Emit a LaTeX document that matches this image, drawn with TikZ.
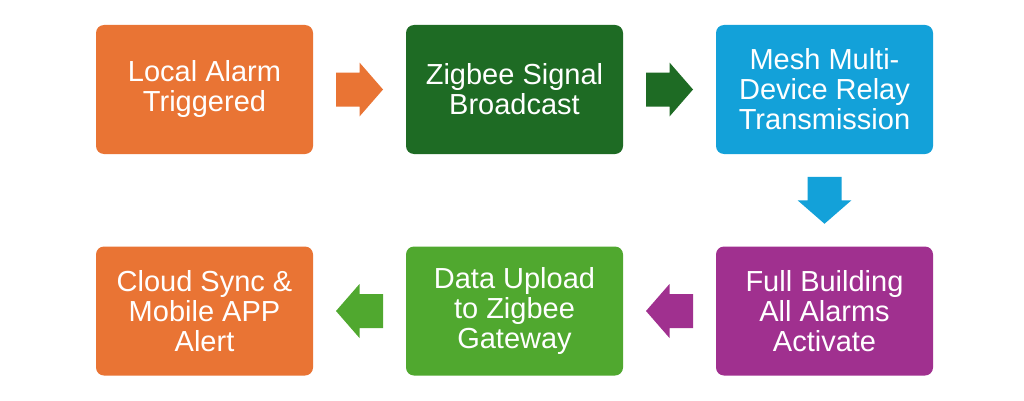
\documentclass[tikz,border=0pt]{standalone}
\usepackage{fontspec}
\setmainfont{Liberation Sans}
\usetikzlibrary{calc}
\definecolor{corange}{HTML}{E97434}
\definecolor{cdgreen}{HTML}{1E6B24}
\definecolor{cblue}{HTML}{13A1D9}
\definecolor{cpurple}{HTML}{A0308F}
\definecolor{clgreen}{HTML}{50A82F}
\tikzset{
  box/.style={rounded corners=8pt, minimum width=217pt, minimum height=129pt, inner sep=0pt,
    text=white, align=center, font=\fontsize{29}{30}\selectfont},
  barrow/.pic={\fill[pic actions] (-23.5,-17) -- (0,-17) -- (0,-27) -- (23.5,0) -- (0,27) -- (0,17) -- (-23.5,17) -- cycle;}
}
\begin{document}
\begin{tikzpicture}[x=1pt,y=1pt]
\useasboundingbox[fill=white] (0,0) rectangle (1024,400);
\node[box, fill=corange] (b1) at (204.5,310.5) {Local Alarm\\Triggered};
\node[box, fill=cdgreen] (b2) at (514.5,310.5) {Zigbee Signal\\Broadcast};
\node[box, fill=cblue] (b3) at (824.5,310.5) {Mesh Multi-\\Device Relay\\Transmission};
\node[box, fill=cpurple] (b4) at (824.5,89) {Full Building\\All Alarms\\Activate};
\node[box, fill=clgreen] (b5) at (514.5,89) {Data Upload\\to Zigbee\\Gateway};
\node[box, fill=corange] (b6) at (204.5,89) {Cloud Sync \&\\Mobile APP\\Alert};
\coordinate (m1) at ($(b1.east)!0.5!(b2.west)$);
\coordinate (m2) at ($(b2.east)!0.5!(b3.west)$);
\coordinate (m3) at ($(b3.south)!0.5!(b4.north)$);
\coordinate (m4) at ($(b4.west)!0.5!(b5.east)$);
\coordinate (m5) at ($(b5.west)!0.5!(b6.east)$);
\pic[fill=corange] at (m1) {barrow};
\pic[fill=cdgreen] at (m2) {barrow};
\pic[fill=cblue, rotate=-90] at (m3) {barrow};
\pic[fill=cpurple, rotate=180] at (m4) {barrow};
\pic[fill=clgreen, rotate=180] at (m5) {barrow};
\end{tikzpicture}
\end{document}
